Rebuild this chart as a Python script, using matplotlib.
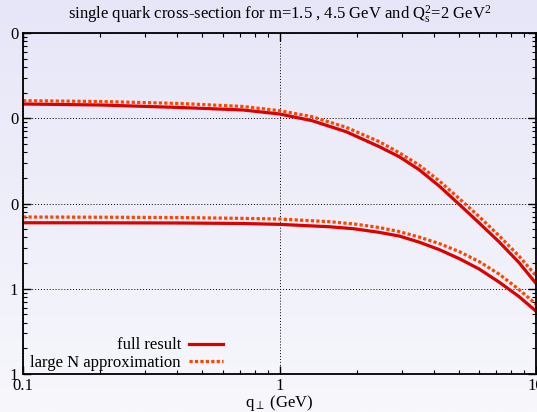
import matplotlib.pyplot as plt
import numpy as np
from matplotlib.ticker import LogLocator, FixedLocator, NullFormatter
from matplotlib.colors import LinearSegmentedColormap

plt.rcParams['font.family'] = ['Liberation Serif', 'DejaVu Serif']
plt.rcParams['mathtext.fontset'] = 'custom'
plt.rcParams['mathtext.rm'] = 'Liberation Serif'
plt.rcParams['mathtext.it'] = 'Liberation Serif'

# m = 1.5 GeV, q_perp in GeV
q_m15 = [0.1, 0.2, 0.41, 0.72, 1.0, 1.34, 1.82, 2.45, 2.93, 3.5, 4.2, 5.02, 6.0, 7.18, 8.59, 10.0]
full_m15 = [1469, 1430, 1337, 1250, 1122, 936, 695, 464, 354, 250, 160, 97.9, 59.4, 35.6, 20.3, 11.6]
largeN_m15 = [1607, 1572, 1489, 1374, 1227, 1043, 783, 531, 394, 283, 184, 114.5, 70.4, 42.0, 24.2, 14.3]

# m = 4.5 GeV
q_m45 = [0.1, 0.2, 0.41, 0.72, 1.0, 1.57, 1.96, 2.45, 2.93, 3.5, 4.2, 5.02, 6.0, 7.18, 8.59, 10.0]
full_m45 = [59.5, 59.4, 59.1, 58.3, 57.0, 53.4, 50.5, 45.9, 41.6, 35.3, 28.8, 22.6, 17.1, 12.0, 8.11, 5.48]
largeN_m45 = [69.5, 69.1, 68.5, 67.0, 65.8, 61.2, 57.5, 52.3, 46.9, 40.5, 33.9, 27.3, 20.9, 14.9, 9.80, 6.62]

y_ticks = [1, 10, 100, 1000, 10000]
y_tick_labels = ['1', '1', '0', '0', '0']
x_ticks = [0.1, 1, 10]
x_tick_labels = ['0.1', '1', '10']

full_color = '#dd0000'
approx_color = '#ff4400'
dots = (0, (1, 0.7))

fig = plt.figure(figsize=(5.37, 4.12), dpi=100)

# gradient background like the gnuplot output
bg = fig.add_axes([0, 0, 1, 1], zorder=-10)
grad = np.linspace(0, 1, 256).reshape(-1, 1)
cmap = LinearSegmentedColormap.from_list('bg', ['#e6e6f8', '#f7f7fc'])
bg.imshow(grad, aspect='auto', cmap=cmap, extent=[0, 1, 0, 1])
bg.axis('off')

ax = fig.add_axes([0.043, 0.092, 0.955, 0.828])
ax.set_facecolor('none')

ax.plot(q_m15, full_m15, color=full_color, lw=2.3, label='full result')
ax.plot(q_m15, largeN_m15, color=approx_color, lw=2.3, ls=dots, label='large N approximation')
ax.plot(q_m45, full_m45, color=full_color, lw=2.3)
ax.plot(q_m45, largeN_m45, color=approx_color, lw=2.3, ls=dots)

ax.set_xscale('log')
ax.set_yscale('log')
ax.set_xlim(0.1, 10)
ax.set_ylim(1, 10000)

ax.xaxis.set_major_locator(FixedLocator(x_ticks))
ax.set_xticklabels(x_tick_labels)
ax.xaxis.set_minor_locator(LogLocator(base=10, subs=np.arange(2, 10)))
ax.xaxis.set_minor_formatter(NullFormatter())
ax.yaxis.set_major_locator(FixedLocator(y_ticks))
ax.set_yticklabels(y_tick_labels)
ax.yaxis.set_minor_locator(LogLocator(base=10, subs=np.arange(2, 10)))
ax.yaxis.set_minor_formatter(NullFormatter())

ax.tick_params(which='both', direction='in', top=True, right=True, labelsize=12, color='black')
ax.tick_params(which='major', length=6, width=1)
ax.tick_params(which='minor', length=3, width=0.8)
ax.tick_params(axis='y', pad=3.5)
ax.tick_params(axis='x', pad=3)

for s in ax.spines.values():
    s.set_linewidth(1.3)

ax.grid(True, which='major', color='black', ls=(0, (1, 2)), lw=0.7)

ax.set_xlabel(r'q$_\perp$ (GeV)', fontsize=12, labelpad=-1)
ax.set_title(r'single quark cross-section for m=1.5 , 4.5 GeV and Q$_\mathregular{s}^\mathregular{2}$=2 GeV$^\mathregular{2}$',
             fontsize=12, pad=10)

ax.legend(loc='lower right', bbox_to_anchor=(0.389, 0.009), markerfirst=False, frameon=False,
          fontsize=12, handlelength=2.0, handletextpad=0.5, labelspacing=0.1,
          borderpad=0, borderaxespad=0)

fig.savefig('out.png', dpi=100)
